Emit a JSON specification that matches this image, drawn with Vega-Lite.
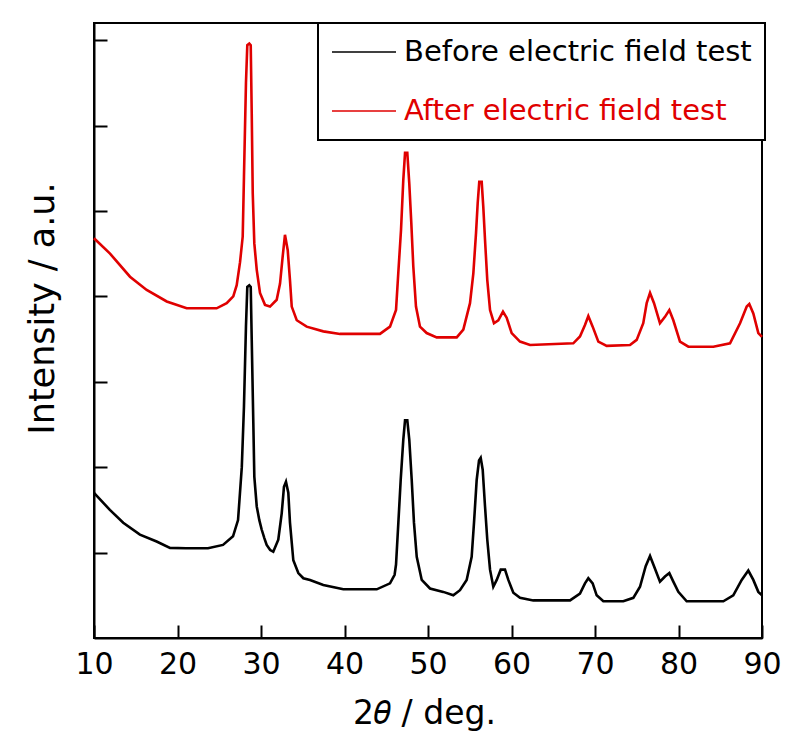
{
  "$schema": "https://vega.github.io/schema/vega-lite/v6.json",
  "width": 668,
  "height": 615,
  "autosize": {"type": "none"},
  "padding": {"left": 94, "top": 23, "right": 27, "bottom": 102},
  "background": "white",
  "data": {
    "values": [
      {"angle": 10, "intensity": 1.70, "sample": "Before electric field test"},
      {"angle": 11.9, "intensity": 1.50, "sample": "Before electric field test"},
      {"angle": 13.5, "intensity": 1.35, "sample": "Before electric field test"},
      {"angle": 15.5, "intensity": 1.21, "sample": "Before electric field test"},
      {"angle": 17.5, "intensity": 1.13, "sample": "Before electric field test"},
      {"angle": 19.1, "intensity": 1.055, "sample": "Before electric field test"},
      {"angle": 21, "intensity": 1.05, "sample": "Before electric field test"},
      {"angle": 23.65, "intensity": 1.05, "sample": "Before electric field test"},
      {"angle": 25.45, "intensity": 1.09, "sample": "Before electric field test"},
      {"angle": 26.65, "intensity": 1.19, "sample": "Before electric field test"},
      {"angle": 27.25, "intensity": 1.38, "sample": "Before electric field test"},
      {"angle": 27.7, "intensity": 2.0, "sample": "Before electric field test"},
      {"angle": 27.96, "intensity": 2.71, "sample": "Before electric field test"},
      {"angle": 28.2, "intensity": 3.65, "sample": "Before electric field test"},
      {"angle": 28.36, "intensity": 4.11, "sample": "Before electric field test"},
      {"angle": 28.6, "intensity": 4.13, "sample": "Before electric field test"},
      {"angle": 28.77, "intensity": 4.11, "sample": "Before electric field test"},
      {"angle": 28.89, "intensity": 3.49, "sample": "Before electric field test"},
      {"angle": 29.08, "intensity": 2.52, "sample": "Before electric field test"},
      {"angle": 29.2, "intensity": 1.89, "sample": "Before electric field test"},
      {"angle": 29.49, "intensity": 1.54, "sample": "Before electric field test"},
      {"angle": 29.8, "intensity": 1.38, "sample": "Before electric field test"},
      {"angle": 30.08, "intensity": 1.27, "sample": "Before electric field test"},
      {"angle": 30.4, "intensity": 1.17, "sample": "Before electric field test"},
      {"angle": 30.68, "intensity": 1.09, "sample": "Before electric field test"},
      {"angle": 31.1, "intensity": 1.03, "sample": "Before electric field test"},
      {"angle": 31.47, "intensity": 1.01, "sample": "Before electric field test"},
      {"angle": 32.07, "intensity": 1.15, "sample": "Before electric field test"},
      {"angle": 32.48, "intensity": 1.46, "sample": "Before electric field test"},
      {"angle": 32.75, "intensity": 1.77, "sample": "Before electric field test"},
      {"angle": 32.99, "intensity": 1.83, "sample": "Before electric field test"},
      {"angle": 33.27, "intensity": 1.70, "sample": "Before electric field test"},
      {"angle": 33.47, "intensity": 1.35, "sample": "Before electric field test"},
      {"angle": 33.87, "intensity": 0.91, "sample": "Before electric field test"},
      {"angle": 34.47, "intensity": 0.76, "sample": "Before electric field test"},
      {"angle": 35.07, "intensity": 0.70, "sample": "Before electric field test"},
      {"angle": 35.87, "intensity": 0.68, "sample": "Before electric field test"},
      {"angle": 37.46, "intensity": 0.62, "sample": "Before electric field test"},
      {"angle": 39.86, "intensity": 0.57, "sample": "Before electric field test"},
      {"angle": 43.86, "intensity": 0.57, "sample": "Before electric field test"},
      {"angle": 45.45, "intensity": 0.64, "sample": "Before electric field test"},
      {"angle": 46.0, "intensity": 0.74, "sample": "Before electric field test"},
      {"angle": 46.17, "intensity": 0.86, "sample": "Before electric field test"},
      {"angle": 46.45, "intensity": 1.35, "sample": "Before electric field test"},
      {"angle": 46.73, "intensity": 1.85, "sample": "Before electric field test"},
      {"angle": 47.04, "intensity": 2.32, "sample": "Before electric field test"},
      {"angle": 47.25, "intensity": 2.55, "sample": "Before electric field test"},
      {"angle": 47.52, "intensity": 2.55, "sample": "Before electric field test"},
      {"angle": 47.76, "intensity": 2.32, "sample": "Before electric field test"},
      {"angle": 48.05, "intensity": 1.85, "sample": "Before electric field test"},
      {"angle": 48.32, "intensity": 1.35, "sample": "Before electric field test"},
      {"angle": 48.65, "intensity": 0.95, "sample": "Before electric field test"},
      {"angle": 49.25, "intensity": 0.68, "sample": "Before electric field test"},
      {"angle": 50.24, "intensity": 0.58, "sample": "Before electric field test"},
      {"angle": 51.83, "intensity": 0.54, "sample": "Before electric field test"},
      {"angle": 53.03, "intensity": 0.50, "sample": "Before electric field test"},
      {"angle": 53.83, "intensity": 0.56, "sample": "Before electric field test"},
      {"angle": 54.63, "intensity": 0.68, "sample": "Before electric field test"},
      {"angle": 55.23, "intensity": 0.95, "sample": "Before electric field test"},
      {"angle": 55.51, "intensity": 1.35, "sample": "Before electric field test"},
      {"angle": 55.83, "intensity": 1.85, "sample": "Before electric field test"},
      {"angle": 56.11, "intensity": 2.08, "sample": "Before electric field test"},
      {"angle": 56.31, "intensity": 2.11, "sample": "Before electric field test"},
      {"angle": 56.55, "intensity": 1.97, "sample": "Before electric field test"},
      {"angle": 56.83, "intensity": 1.54, "sample": "Before electric field test"},
      {"angle": 57.1, "intensity": 1.15, "sample": "Before electric field test"},
      {"angle": 57.43, "intensity": 0.80, "sample": "Before electric field test"},
      {"angle": 57.82, "intensity": 0.60, "sample": "Before electric field test"},
      {"angle": 58.23, "intensity": 0.68, "sample": "Before electric field test"},
      {"angle": 58.71, "intensity": 0.80, "sample": "Before electric field test"},
      {"angle": 59.22, "intensity": 0.80, "sample": "Before electric field test"},
      {"angle": 59.62, "intensity": 0.68, "sample": "Before electric field test"},
      {"angle": 60.22, "intensity": 0.53, "sample": "Before electric field test"},
      {"angle": 61.02, "intensity": 0.47, "sample": "Before electric field test"},
      {"angle": 62.61, "intensity": 0.44, "sample": "Before electric field test"},
      {"angle": 67.01, "intensity": 0.44, "sample": "Before electric field test"},
      {"angle": 68.2, "intensity": 0.52, "sample": "Before electric field test"},
      {"angle": 68.8, "intensity": 0.64, "sample": "Before electric field test"},
      {"angle": 69.2, "intensity": 0.70, "sample": "Before electric field test"},
      {"angle": 69.72, "intensity": 0.64, "sample": "Before electric field test"},
      {"angle": 70.2, "intensity": 0.50, "sample": "Before electric field test"},
      {"angle": 71.0, "intensity": 0.43, "sample": "Before electric field test"},
      {"angle": 73.39, "intensity": 0.43, "sample": "Before electric field test"},
      {"angle": 74.59, "intensity": 0.47, "sample": "Before electric field test"},
      {"angle": 75.39, "intensity": 0.60, "sample": "Before electric field test"},
      {"angle": 76.07, "intensity": 0.84, "sample": "Before electric field test"},
      {"angle": 76.59, "intensity": 0.96, "sample": "Before electric field test"},
      {"angle": 77.07, "intensity": 0.84, "sample": "Before electric field test"},
      {"angle": 77.78, "intensity": 0.66, "sample": "Before electric field test"},
      {"angle": 78.38, "intensity": 0.72, "sample": "Before electric field test"},
      {"angle": 78.9, "intensity": 0.76, "sample": "Before electric field test"},
      {"angle": 79.38, "intensity": 0.66, "sample": "Before electric field test"},
      {"angle": 79.98, "intensity": 0.54, "sample": "Before electric field test"},
      {"angle": 80.98, "intensity": 0.43, "sample": "Before electric field test"},
      {"angle": 85.37, "intensity": 0.43, "sample": "Before electric field test"},
      {"angle": 86.56, "intensity": 0.50, "sample": "Before electric field test"},
      {"angle": 87.57, "intensity": 0.68, "sample": "Before electric field test"},
      {"angle": 88.36, "intensity": 0.79, "sample": "Before electric field test"},
      {"angle": 88.96, "intensity": 0.68, "sample": "Before electric field test"},
      {"angle": 89.56, "intensity": 0.54, "sample": "Before electric field test"},
      {"angle": 90, "intensity": 0.50, "sample": "Before electric field test"},

      {"angle": 10, "intensity": 4.68, "sample": "After electric field test"},
      {"angle": 11.92, "intensity": 4.50, "sample": "After electric field test"},
      {"angle": 14.31, "intensity": 4.23, "sample": "After electric field test"},
      {"angle": 16.31, "intensity": 4.075, "sample": "After electric field test"},
      {"angle": 18.71, "intensity": 3.94, "sample": "After electric field test"},
      {"angle": 21.1, "intensity": 3.86, "sample": "After electric field test"},
      {"angle": 24.69, "intensity": 3.86, "sample": "After electric field test"},
      {"angle": 25.89, "intensity": 3.92, "sample": "After electric field test"},
      {"angle": 26.68, "intensity": 4.0, "sample": "After electric field test"},
      {"angle": 27.09, "intensity": 4.13, "sample": "After electric field test"},
      {"angle": 27.49, "intensity": 4.40, "sample": "After electric field test"},
      {"angle": 27.81, "intensity": 4.70, "sample": "After electric field test"},
      {"angle": 27.96, "intensity": 5.40, "sample": "After electric field test"},
      {"angle": 28.2, "intensity": 6.50, "sample": "After electric field test"},
      {"angle": 28.36, "intensity": 6.94, "sample": "After electric field test"},
      {"angle": 28.6, "intensity": 6.96, "sample": "After electric field test"},
      {"angle": 28.77, "intensity": 6.94, "sample": "After electric field test"},
      {"angle": 28.89, "intensity": 6.14, "sample": "After electric field test"},
      {"angle": 29.01, "intensity": 5.21, "sample": "After electric field test"},
      {"angle": 29.2, "intensity": 4.62, "sample": "After electric field test"},
      {"angle": 29.49, "intensity": 4.31, "sample": "After electric field test"},
      {"angle": 29.88, "intensity": 4.04, "sample": "After electric field test"},
      {"angle": 30.48, "intensity": 3.90, "sample": "After electric field test"},
      {"angle": 31.08, "intensity": 3.88, "sample": "After electric field test"},
      {"angle": 31.88, "intensity": 3.96, "sample": "After electric field test"},
      {"angle": 32.28, "intensity": 4.15, "sample": "After electric field test"},
      {"angle": 32.6, "intensity": 4.47, "sample": "After electric field test"},
      {"angle": 32.87, "intensity": 4.72, "sample": "After electric field test"},
      {"angle": 33.2, "intensity": 4.54, "sample": "After electric field test"},
      {"angle": 33.47, "intensity": 4.19, "sample": "After electric field test"},
      {"angle": 33.68, "intensity": 3.88, "sample": "After electric field test"},
      {"angle": 34.28, "intensity": 3.72, "sample": "After electric field test"},
      {"angle": 35.47, "intensity": 3.645, "sample": "After electric field test"},
      {"angle": 37.46, "intensity": 3.59, "sample": "After electric field test"},
      {"angle": 39.46, "intensity": 3.56, "sample": "After electric field test"},
      {"angle": 44.25, "intensity": 3.56, "sample": "After electric field test"},
      {"angle": 45.45, "intensity": 3.645, "sample": "After electric field test"},
      {"angle": 46.17, "intensity": 3.84, "sample": "After electric field test"},
      {"angle": 46.44, "intensity": 4.27, "sample": "After electric field test"},
      {"angle": 46.77, "intensity": 4.78, "sample": "After electric field test"},
      {"angle": 47.04, "intensity": 5.36, "sample": "After electric field test"},
      {"angle": 47.25, "intensity": 5.68, "sample": "After electric field test"},
      {"angle": 47.52, "intensity": 5.68, "sample": "After electric field test"},
      {"angle": 47.76, "intensity": 5.32, "sample": "After electric field test"},
      {"angle": 48.0, "intensity": 4.86, "sample": "After electric field test"},
      {"angle": 48.24, "intensity": 4.35, "sample": "After electric field test"},
      {"angle": 48.56, "intensity": 3.88, "sample": "After electric field test"},
      {"angle": 49.04, "intensity": 3.645, "sample": "After electric field test"},
      {"angle": 49.84, "intensity": 3.57, "sample": "After electric field test"},
      {"angle": 51.04, "intensity": 3.52, "sample": "After electric field test"},
      {"angle": 53.44, "intensity": 3.52, "sample": "After electric field test"},
      {"angle": 54.23, "intensity": 3.61, "sample": "After electric field test"},
      {"angle": 55.03, "intensity": 3.92, "sample": "After electric field test"},
      {"angle": 55.43, "intensity": 4.27, "sample": "After electric field test"},
      {"angle": 55.75, "intensity": 4.74, "sample": "After electric field test"},
      {"angle": 55.95, "intensity": 5.09, "sample": "After electric field test"},
      {"angle": 56.14, "intensity": 5.34, "sample": "After electric field test"},
      {"angle": 56.43, "intensity": 5.34, "sample": "After electric field test"},
      {"angle": 56.62, "intensity": 5.05, "sample": "After electric field test"},
      {"angle": 56.83, "intensity": 4.66, "sample": "After electric field test"},
      {"angle": 57.1, "intensity": 4.19, "sample": "After electric field test"},
      {"angle": 57.43, "intensity": 3.84, "sample": "After electric field test"},
      {"angle": 57.9, "intensity": 3.685, "sample": "After electric field test"},
      {"angle": 58.42, "intensity": 3.72, "sample": "After electric field test"},
      {"angle": 58.98, "intensity": 3.82, "sample": "After electric field test"},
      {"angle": 59.42, "intensity": 3.75, "sample": "After electric field test"},
      {"angle": 60.02, "intensity": 3.57, "sample": "After electric field test"},
      {"angle": 61.02, "intensity": 3.47, "sample": "After electric field test"},
      {"angle": 62.22, "intensity": 3.43, "sample": "After electric field test"},
      {"angle": 67.4, "intensity": 3.45, "sample": "After electric field test"},
      {"angle": 68.2, "intensity": 3.53, "sample": "After electric field test"},
      {"angle": 68.8, "intensity": 3.665, "sample": "After electric field test"},
      {"angle": 69.2, "intensity": 3.77, "sample": "After electric field test"},
      {"angle": 69.72, "intensity": 3.645, "sample": "After electric field test"},
      {"angle": 70.4, "intensity": 3.47, "sample": "After electric field test"},
      {"angle": 71.4, "intensity": 3.42, "sample": "After electric field test"},
      {"angle": 74.19, "intensity": 3.43, "sample": "After electric field test"},
      {"angle": 74.99, "intensity": 3.49, "sample": "After electric field test"},
      {"angle": 75.78, "intensity": 3.685, "sample": "After electric field test"},
      {"angle": 76.19, "intensity": 3.92, "sample": "After electric field test"},
      {"angle": 76.59, "intensity": 4.04, "sample": "After electric field test"},
      {"angle": 77.07, "intensity": 3.92, "sample": "After electric field test"},
      {"angle": 77.78, "intensity": 3.685, "sample": "After electric field test"},
      {"angle": 78.38, "intensity": 3.76, "sample": "After electric field test"},
      {"angle": 78.9, "intensity": 3.84, "sample": "After electric field test"},
      {"angle": 79.38, "intensity": 3.72, "sample": "After electric field test"},
      {"angle": 80.18, "intensity": 3.47, "sample": "After electric field test"},
      {"angle": 81.18, "intensity": 3.41, "sample": "After electric field test"},
      {"angle": 84.17, "intensity": 3.41, "sample": "After electric field test"},
      {"angle": 86.17, "intensity": 3.45, "sample": "After electric field test"},
      {"angle": 87.37, "intensity": 3.685, "sample": "After electric field test"},
      {"angle": 88.17, "intensity": 3.88, "sample": "After electric field test"},
      {"angle": 88.48, "intensity": 3.91, "sample": "After electric field test"},
      {"angle": 88.96, "intensity": 3.80, "sample": "After electric field test"},
      {"angle": 89.56, "intensity": 3.57, "sample": "After electric field test"},
      {"angle": 90, "intensity": 3.525, "sample": "After electric field test"}
    ]
  },
  "mark": {"type": "line", "strokeWidth": 2.6, "interpolate": "linear", "strokeJoin": "miter"},
  "encoding": {
    "x": {
      "field": "angle",
      "type": "quantitative",
      "scale": {"domain": [10, 90], "nice": false, "zero": false},
      "axis": {
        "values": [10, 20, 30, 40, 50, 60, 70, 80, 90],
        "title": "2𝜃 / deg.",
        "titleX": 330,
        "titleY": 85,
        "titleBaseline": "alphabetic",
        "titleAnchor": "middle",
        "titleFontSize": 33,
        "labelPadding": 24,
        "labelFlush": false,
        "labelFontSize": 30
      }
    },
    "y": {
      "field": "intensity",
      "type": "quantitative",
      "scale": {"domain": [0, 7.2], "nice": false},
      "axis": {
        "values": [1, 2, 3, 4, 5, 6, 7],
        "labels": false,
        "title": "Intensity / a.u.",
        "titleX": -52,
        "titleY": 285,
        "titleAngle": -90,
        "titleBaseline": "middle",
        "titleAlign": "center",
        "titleFontSize": 35
      }
    },
    "color": {
      "field": "sample",
      "type": "nominal",
      "scale": {
        "domain": ["Before electric field test", "After electric field test"],
        "range": ["#000000", "#e00000"]
      },
      "legend": {
        "title": null,
        "orient": "none",
        "legendX": 224,
        "legendY": 0,
        "symbolType": "stroke",
        "symbolSize": 4096,
        "symbolStrokeWidth": 1.5,
        "clipHeight": 32,
        "labelFontSize": 29,
        "labelLimit": 500,
        "labelOffset": 7,
        "padding": 13,
        "rowPadding": 27,
        "strokeColor": "black",
        "fillColor": "white",
        "encode": {
          "labels": {"update": {"fill": {"scale": "color", "field": "value"}}},
          "legend": {"update": {"strokeWidth": {"value": 2}}}
        }
      }
    }
  },
  "config": {
    "font": "DejaVu Sans",
    "view": {"stroke": "black", "strokeWidth": 2},
    "axis": {
      "grid": false,
      "domainColor": "black",
      "domainWidth": 2,
      "tickColor": "black",
      "tickWidth": 2,
      "tickSize": -13,
      "labelColor": "black",
      "labelFont": "DejaVu Sans",
      "titleFont": "DejaVu Sans",
      "titleColor": "black",
      "titleFontWeight": "normal"
    },
    "legend": {"labelFont": "DejaVu Sans", "labelColor": "black"}
  }
}
